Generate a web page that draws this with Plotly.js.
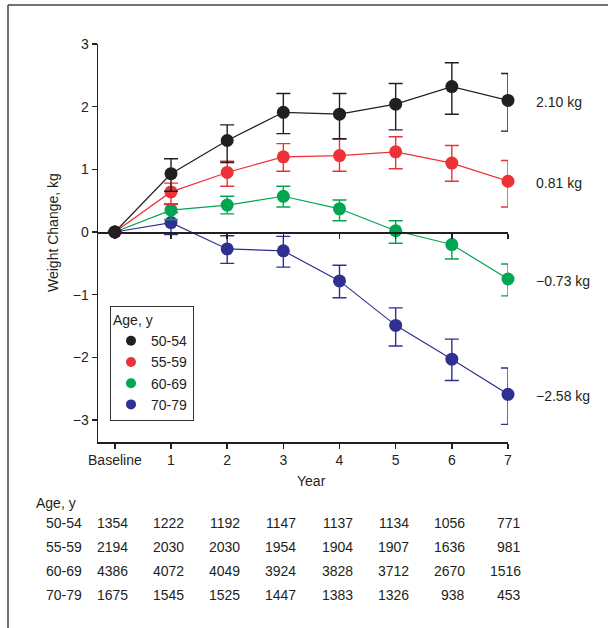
<!DOCTYPE html>
<html>
<head>
<meta charset="utf-8">
<script src="https://cdn.plot.ly/plotly-3.0.1.min.js"></script>
<style>
  html, body { margin: 0; padding: 0; background: #fff; }
  #chart { width: 608px; height: 628px; }
</style>
</head>
<body>
<div id="chart"></div>
<script>
// ---- Data ----
const timeLabels = ['Baseline', '1', '2', '3', '4', '5', '6', '7'];
const ageGroups = ['50-54', '55-59', '60-69', '70-79'];

// Mean weight change (kg)
const mean5054 = [0, 0.93, 1.46, 1.91, 1.88, 2.04, 2.32, 2.10];
const mean5559 = [0, 0.64, 0.95, 1.20, 1.22, 1.28, 1.10, 0.81];
const mean6069 = [0, 0.35, 0.43, 0.57, 0.37, 0.02, -0.20, -0.75];
const mean7079 = [0, 0.15, -0.27, -0.30, -0.78, -1.49, -2.03, -2.59];

// Upper / lower confidence limits (kg)
const upper5054 = [null, 1.17, 1.71, 2.21, 2.21, 2.37, 2.70, 2.53];
const lower5054 = [null, 0.65, 1.11, 1.57, 1.49, 1.63, 1.88, 1.61];
const upper5559 = [null, 0.78, 1.13, 1.41, 1.48, 1.52, 1.38, 1.14];
const lower5559 = [null, 0.44, 0.73, 0.97, 0.97, 1.01, 0.81, 0.40];
const upper6069 = [null, 0.45, 0.57, 0.73, 0.51, 0.18, -0.01, -0.51];
const lower6069 = [null, 0.20, 0.29, 0.40, 0.18, -0.18, -0.43, -1.02];
const upper7079 = [null, 0.31, -0.06, -0.07, -0.53, -1.21, -1.71, -2.17];
const lower7079 = [null, -0.04, -0.50, -0.56, -1.05, -1.82, -2.37, -3.07];

// End-of-study labels
const endLabels = ['2.10 kg', '0.81 kg', '\u22120.73 kg', '\u22122.58 kg'];

// Number of participants at each time point
const count5054 = [1354, 1222, 1192, 1147, 1137, 1134, 1056, 771];
const count5559 = [2194, 2030, 2030, 1954, 1904, 1907, 1636, 981];
const count6069 = [4386, 4072, 4049, 3924, 3828, 3712, 2670, 1516];
const count7079 = [1675, 1545, 1525, 1447, 1383, 1326, 938, 453];

const yTicks = [-3, -2, -1, 0, 1, 2, 3];

// ---- Styling ----
const colors = ['#231f20', '#ed3237', '#00a651', '#2e3192'];
const ink = '#231f20';
const FONT = 'Liberation Sans, Arial, Helvetica, sans-serif';
const FS = 14;

const means = [mean5054, mean5559, mean6069, mean7079];
const uppers = [upper5054, upper5559, upper6069, upper7079];
const lowers = [lower5054, lower5559, lower6069, lower7079];
const counts = [count5054, count5559, count6069, count7079];
const xIdx = timeLabels.map((_, i) => i);

// plot area in pixels
const L = 98, R = 508, T = 44, B = 442, W = 608, H = 628;
const px2x = p => (p - L) / (R - L);
const py2y = p => (B - p) / (B - T);

const yMin = -3.351, yMax = 3;
const xMin = -0.3, xMax = 7;

const traces = [];
// data traces (draw 70-79 first so 50-54 is on top)
for (let g = 3; g >= 0; g--) {
  const m = means[g];
  traces.push({
    type: 'scatter', mode: 'lines+markers', cliponaxis: false,
    x: xIdx, y: m, name: ageGroups[g], showlegend: false,
    line: { color: colors[g], width: 1.2 },
    marker: { color: colors[g], size: 13 },
    error_y: {
      type: 'data', symmetric: false,
      array: uppers[g].map((u, i) => u === null ? null : u - m[i]),
      arrayminus: lowers[g].map((l, i) => l === null ? null : m[i] - l),
      color: colors[g], thickness: 1.4, width: 7
    },
    hoverinfo: 'x+y'
  });
}
// legend entries (dots only)
for (let g = 0; g < 4; g++) {
  traces.push({
    type: 'scatter', mode: 'markers', x: [null], y: [null],
    name: ageGroups[g], showlegend: true,
    marker: { color: colors[g], size: 10 }
  });
}
// dummy trace for the zero axis
traces.push({ type: 'scatter', mode: 'markers', x: [null], y: [null],
  xaxis: 'x2', yaxis: 'y', showlegend: false, hoverinfo: 'skip' });

const txt = { family: FONT, size: FS, color: ink };
const annotations = [];
// end labels
for (let g = 0; g < 4; g++) {
  annotations.push({
    xref: 'x', yref: 'y', x: xIdx[xIdx.length - 1], y: means[g][means[g].length - 1],
    text: endLabels[g], showarrow: false, xanchor: 'left', yanchor: 'middle',
    xshift: 26, yshift: -2, font: txt
  });
}
// axis titles
annotations.push({
  xref: 'x', yref: 'paper', x: 3.5, y: py2y(481), text: 'Year', showarrow: false,
  xanchor: 'center', yanchor: 'middle', font: txt
});
annotations.push({
  xref: 'paper', yref: 'paper', x: px2x(53), y: py2y(233), text: 'Weight Change, kg',
  textangle: -90, showarrow: false, xanchor: 'center', yanchor: 'middle', font: txt
});
// table
annotations.push({
  xref: 'paper', yref: 'paper', x: px2x(34), y: py2y(503), text: 'Age, y',
  showarrow: false, xanchor: 'left', yanchor: 'middle', font: txt
});
const rowY = [523, 547, 571, 595];
for (let g = 0; g < 4; g++) {
  annotations.push({
    xref: 'paper', yref: 'paper', x: px2x(44), y: py2y(rowY[g]), text: ageGroups[g],
    showarrow: false, xanchor: 'left', yanchor: 'middle', font: txt
  });
  counts[g].forEach((n, i) => {
    annotations.push({
      xref: 'x', yref: 'paper', x: xIdx[i], y: py2y(rowY[g]), text: String(n),
      showarrow: false, xanchor: 'right', yanchor: 'middle', xshift: 15, font: txt
    });
  });
}

const layout = {
  width: W, height: H,
  margin: { l: L, r: W - R, t: T, b: H - B, pad: 0 },
  paper_bgcolor: '#fff', plot_bgcolor: '#fff',
  font: txt,
  showlegend: true,
  legend: {
    x: px2x(110), y: py2y(306), xanchor: 'left', yanchor: 'top',
    bordercolor: '#333', borderwidth: 1, bgcolor: '#fff',
    title: { text: 'Age, y', font: txt },
    font: txt, tracegroupgap: 0, itemclick: false
  },
  xaxis: {
    range: [xMin, xMax], tickmode: 'array', tickvals: xIdx, ticktext: timeLabels,
    showgrid: false, zeroline: false, showline: true, linecolor: ink, linewidth: 1.5,
    ticks: 'outside', ticklen: 5, tickwidth: 1.5, tickcolor: ink,
    tickfont: txt, fixedrange: true
  },
  xaxis2: {
    overlaying: 'x', anchor: 'free', position: (0 - yMin) / (yMax - yMin),
    range: [xMin, xMax], tickmode: 'array', tickvals: xIdx,
    showticklabels: false, showgrid: false, zeroline: false,
    showline: true, linecolor: ink, linewidth: 1.5,
    ticks: 'outside', ticklen: 5, tickwidth: 1.5, tickcolor: ink, fixedrange: true
  },
  yaxis: {
    range: [yMin, yMax], tickmode: 'array', tickvals: yTicks,
    showgrid: false, zeroline: false, showline: true, linecolor: ink, linewidth: 1.5,
    ticks: 'outside', ticklen: 5, tickwidth: 1.5, tickcolor: ink,
    tickfont: txt, fixedrange: true
  },
  shapes: [
    { type: 'line', xref: 'paper', yref: 'paper', x0: px2x(8), x1: px2x(608), y0: py2y(5), y1: py2y(5),
      line: { color: '#444', width: 1.5 } },
    { type: 'line', xref: 'paper', yref: 'paper', x0: px2x(8), x1: px2x(8), y0: py2y(5), y1: py2y(628),
      line: { color: '#444', width: 1.5 } }
  ],
  annotations: annotations
};

Plotly.newPlot('chart', traces, layout, { displayModeBar: false, staticPlot: true });
</script>
</body>
</html>
